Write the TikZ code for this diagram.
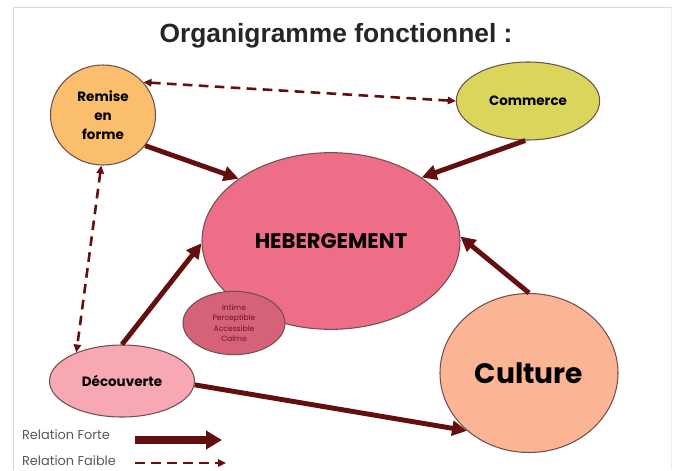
\documentclass[tikz,border=0pt]{standalone}
\usepackage{fontspec}
\setmainfont{Poppins}
\newfontfamily\titlefont{Liberation Sans}
\usetikzlibrary{arrows.meta,shapes.geometric}

\definecolor{brun}{HTML}{640F0F}
\definecolor{bord}{HTML}{6E5050}
\definecolor{orangeR}{HTML}{FBBE6C}
\definecolor{jaune}{HTML}{DAD65C}
\definecolor{rose}{HTML}{EE6E87}
\definecolor{roseF}{HTML}{D66278}
\definecolor{roseC}{HTML}{F8A8B2}
\definecolor{saumon}{HTML}{FBB494}
\definecolor{texteR}{HTML}{6E1028}
\definecolor{cadre}{HTML}{D8D8D8}

\begin{document}
\begin{tikzpicture}[
  x=0.3mm,y=-0.3mm,
  bulle/.style={ellipse,draw=bord,line width=0.9pt,inner sep=0pt,align=center},
  forte/.style={draw=brun,line width=4.2pt,-{Triangle[length=4.5mm,width=4.4mm]}},
  faible/.style={draw=brun,line width=2.2pt,dash pattern=on 2.9mm off 1.9mm,
    {Triangle[length=2.4mm,width=2.2mm]}-{Triangle[length=2.4mm,width=2.2mm]}},
  legende/.style={anchor=west,text=black!65,font=\fontsize{11}{13}\selectfont}
]
\fill[white] (0,0) rectangle (673,470);
\draw[cadre,line width=0.8pt] (13,470) -- (13,7) -- (671,7);
\draw[cadre!50,line width=0.6pt] (671,7) -- (671,470);

\node[text=black!85,font=\titlefont\bfseries\fontsize{22.5}{26}\selectfont] (titre) at (336,36) {Organigramme fonctionnel :};

% bulles
\node[bulle,fill=orangeR,minimum width=31.5mm,minimum height=30mm,
  font=\bfseries\fontsize{11.5}{16}\selectfont] (remise) at (103,115) {Remise\\en\\forme};
\node[bulle,fill=jaune,minimum width=43mm,minimum height=23.4mm,
  font=\bfseries\fontsize{11.5}{13}\selectfont] (commerce) at (528,101) {Commerce};
\node[bulle,fill=rose,minimum width=77.4mm,minimum height=53mm,
  font=\bfseries\fontsize{18}{21}\selectfont] (heberg) at (331,241) {HEBERGEMENT};
\node[bulle,fill=roseF,minimum width=30.6mm,minimum height=19mm,text=texteR,
  font=\fontsize{6.5}{9}\selectfont] (qualites) at (234,323) {Intime\\Perceptible\\Accessible\\Calme};
\node[bulle,fill=roseC,minimum width=43.5mm,minimum height=21.6mm,
  font=\bfseries\fontsize{11.5}{13}\selectfont] (decouv) at (122,381) {Découverte};
\node[bulle,fill=saumon,minimum width=53.4mm,minimum height=47.7mm,
  font=\bfseries\fontsize{24}{28}\selectfont] (culture) at (529,373) {Culture};

% relations
\draw[forte] (remise.-36) -- (heberg.146);
\draw[forte] (commerce.-94) -- (heberg.35);
\draw[forte] (culture.90) -- (heberg.2);
\draw[forte] (decouv.90) -- (heberg.181);
\draw[forte] (decouv.-3) -- (culture.-137);
\draw[faible] (remise.39) -- (commerce.180);
\draw[faible] (remise.-92) -- (decouv.148);

% legende
\node[legende] (lforte) at (18,435) {Relation Forte};
\node[legende] (lfaible) at (18,461) {Relation Faible};
\coordinate (fo1) at (135,440);
\coordinate (fo2) at (222,440);
\coordinate (fa1) at (135,463);
\coordinate (fa2) at (226,463);
\draw[draw=brun,line width=6pt,-{Triangle[length=4.8mm,width=5.4mm]}] (fo1) -- (fo2);
\draw[draw=brun,line width=2.2pt,dash pattern=on 2.9mm off 1.9mm,-{Triangle[length=2.4mm,width=2.2mm]}] (fa1) -- (fa2);
\end{tikzpicture}
\end{document}
